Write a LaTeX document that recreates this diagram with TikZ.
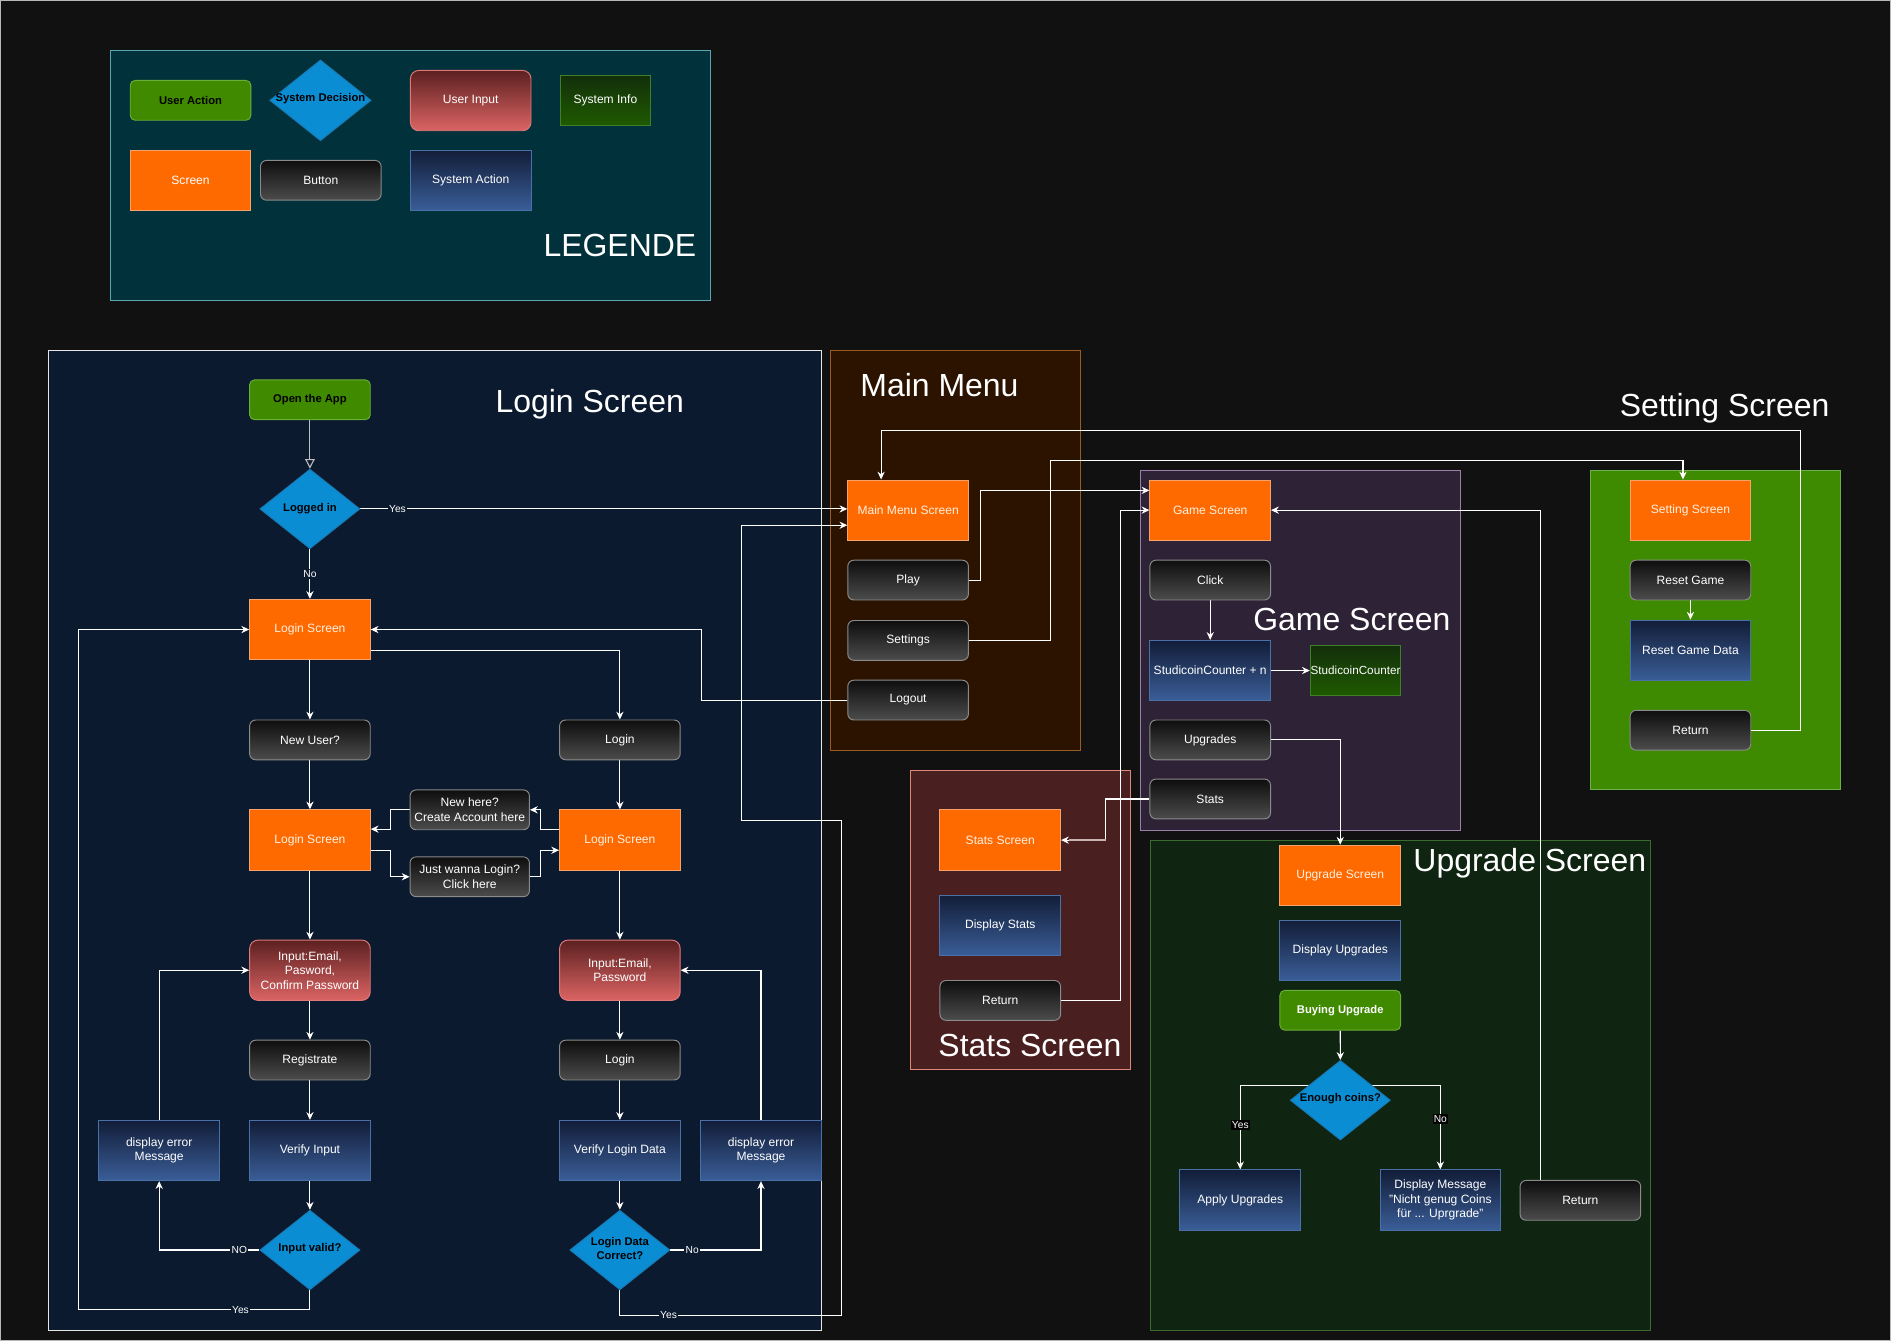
\documentclass[tikz,border=0pt]{standalone}
\usepackage{fontspec}
\setmainfont{Liberation Sans}
\usetikzlibrary{shapes.geometric,arrows.meta,calc}
\pgfdeclarelayer{bg}
\pgfdeclarelayer{edges}
\pgfsetlayers{bg,edges,main}
\definecolor{pagebg}{HTML}{111111}
\definecolor{legfill}{HTML}{01313A}
\definecolor{legdraw}{HTML}{56A8AE}
\definecolor{logfill}{HTML}{0B1A2E}
\definecolor{logdraw}{HTML}{E6E6E6}
\definecolor{mmfill}{HTML}{2B1300}
\definecolor{mmdraw}{HTML}{9A5A20}
\definecolor{gmfill}{HTML}{2E2236}
\definecolor{gmdraw}{HTML}{9A80A8}
\definecolor{setfill}{HTML}{3E8A00}
\definecolor{setdraw}{HTML}{6BB04A}
\definecolor{stfill}{HTML}{4A1F1F}
\definecolor{stdraw}{HTML}{E08878}
\definecolor{upfill}{HTML}{0F2411}
\definecolor{updraw}{HTML}{3B6B2E}
\definecolor{scrfill}{HTML}{FF6A00}
\definecolor{scrdraw}{HTML}{F5A36A}
\definecolor{scrtext}{HTML}{FFF0E2}
\definecolor{btntop}{HTML}{0E0E0E}
\definecolor{btnbot}{HTML}{4C4C4C}
\definecolor{btndraw}{HTML}{8A8A8A}
\definecolor{satop}{HTML}{121D38}
\definecolor{sabot}{HTML}{3A5E98}
\definecolor{sadraw}{HTML}{4A70A8}
\definecolor{sitop}{HTML}{132F0B}
\definecolor{sibot}{HTML}{1F5A00}
\definecolor{sidraw}{HTML}{3F7F2A}
\definecolor{uafill}{HTML}{408A00}
\definecolor{uadraw}{HTML}{6AAE3A}
\definecolor{uitop}{HTML}{5C2020}
\definecolor{uibot}{HTML}{DC6464}
\definecolor{uidraw}{HTML}{E07878}
\definecolor{decfill}{HTML}{0B8DD3}
\definecolor{decdraw}{HTML}{1A78B0}
\definecolor{statline}{HTML}{C8B2B2}
\begin{document}
\begin{tikzpicture}[x=1pt,y=-1pt,
  every node/.style={font=\fontsize{10}{12}\selectfont, align=center, inner sep=1pt, text=white},
  screenbox/.style={rectangle, fill=scrfill, draw=scrdraw, line width=0.8pt, text=scrtext, minimum width=100pt, minimum height=50pt},
  btnbox/.style={rectangle, rounded corners=5pt, top color=btntop, bottom color=btnbot, draw=btndraw, line width=0.8pt, text=white, minimum width=100pt, minimum height=33pt},
  sysact/.style={rectangle, top color=satop, bottom color=sabot, draw=sadraw, line width=0.8pt, text=white, minimum width=100pt, minimum height=50pt},
  sysinfo/.style={rectangle, top color=sitop, bottom color=sibot, draw=sidraw, line width=0.8pt, text=white, minimum width=75pt, minimum height=41.5pt, inner sep=0pt},
  useract/.style={rectangle, rounded corners=4pt, fill=uafill, draw=uadraw, line width=0.8pt, text=black, font=\fontsize{9.3}{11}\selectfont\bfseries, minimum width=100pt, minimum height=33pt},
  userin/.style={rectangle, rounded corners=7pt, top color=uitop, bottom color=uibot, draw=uidraw, line width=0.8pt, text=white, minimum width=100pt, minimum height=50pt},
  decision/.style={diamond, fill=decfill, draw=decdraw, line width=0.8pt, minimum width=83pt, minimum height=66pt, inner sep=0pt},
  dectxt/.style={text=black, font=\fontsize{9.3}{11.5}\selectfont\bfseries, inner sep=0pt},
  ttl/.style={text=white, font=\fontsize{26.5}{30}\selectfont, inner sep=0pt},
  conn/.style={draw=white, line width=0.9pt, -{Stealth[length=6.5pt,width=6pt]}},
  lbl/.style={font=\fontsize{8.5}{10}\selectfont, text=white, fill=logfill, inner sep=1pt},
  lblb/.style={font=\fontsize{8.5}{10}\selectfont, text=white, fill=black, inner sep=1pt}
]
\useasboundingbox (0,0) rectangle (1568,1112);

\begin{pgfonlayer}{bg}
  \fill[pagebg] (0,0) rectangle (1568,1112);
  \draw[draw=legdraw, fill=legfill, line width=0.9pt] (91.8,42) rectangle (589.5,248.8);
  \draw[draw=logdraw, fill=logfill, line width=0.9pt] (40.5,290.5) rectangle (681,1103);
  \draw[draw=mmdraw, fill=mmfill, line width=0.9pt] (688.7,290.5) rectangle (896,622);
  \draw[draw=gmdraw, fill=gmfill, line width=0.9pt] (946,390.3) rectangle (1211,688.5);
  \draw[draw=setdraw, fill=setfill, line width=0.9pt] (1318.7,390) rectangle (1526.3,655);
  \draw[draw=stdraw, fill=stfill, line width=0.9pt] (754.8,638.8) rectangle (937.5,887);
  \draw[draw=updraw, fill=upfill, line width=0.9pt] (954,697) rectangle (1368.5,1103);
  \draw[draw=white!72!black, line width=1pt] (0.5,0.5) rectangle (1567.5,1111.5);
\end{pgfonlayer}

% ---------- Legend ----------
\node[useract] (lgUA) at (158,83.2) {User Action};
\node[decision, minimum width=84pt, minimum height=67pt] (lgSD) at (265.7,83.2) {};
\node[dectxt] (lgSDt) at (265.7,81.5) {System Decision};
\node[userin] (lgUI) at (390.3,83.4) {User Input};
\node[sysinfo] (lgSI) at (502,83.3) {System Info};
\node[screenbox, text=white] (lgSC) at (158,149.5) {Screen};
\node[btnbox] (lgBT) at (266,149.5) {Button};
\node[sysact] (lgSA) at (390.3,149.5) {System Action};
\node[ttl] (tLeg) at (514,203.5) {LEGENDE};

% ---------- Login Screen ----------
\node[ttl] (tLogin) at (489,335) {Login Screen};
\node[useract] (open) at (257,331.5) {Open the App};
\node[decision] (d1) at (257,422) {};
\node[dectxt] (d1t) at (257,421.5) {Logged in};
\node[screenbox] (ls1) at (257,522) {Login Screen};
\node[btnbox] (newuser) at (257,613.5) {New User?};
\node[btnbox] (login1) at (514,613.5) {Login};
\node[screenbox] (ls2) at (257,696.5) {Login Screen};
\node[screenbox] (ls3) at (514,696.5) {Login Screen};
\node[btnbox, minimum width=99pt] (newhere) at (389.5,671.5) {New here?\\Create Account here};
\node[btnbox, minimum width=99pt] (just) at (389.5,727) {Just wanna Login?\\Click here};
\node[userin] (in1) at (257,804.5) {Input:Email,\\Pasword,\\Confirm Password};
\node[userin] (in2) at (514,804.5) {Input:Email,\\Password};
\node[btnbox] (reg) at (257,879) {Registrate};
\node[btnbox] (login2) at (514,879) {Login};
\node[sysact] (err1) at (132,954) {display error\\Message};
\node[sysact] (ver1) at (257,954) {Verify Input};
\node[sysact] (ver2) at (514,954) {Verify Login Data};
\node[sysact] (err2) at (631,954) {display error\\Message};
\node[decision] (d2) at (257,1036.5) {};
\node[dectxt] (d2t) at (257,1035.5) {Input valid?};
\node[decision] (d3) at (514,1036.5) {};
\node[dectxt] (d3t) at (514,1035.5) {Login Data\\Correct?};

% ---------- Main Menu ----------
\node[ttl] (tMM) at (779,319) {Main Menu};
\node[screenbox] (mms) at (753,423) {Main Menu Screen};
\node[btnbox] (play) at (753,481) {Play};
\node[btnbox] (settings) at (753,531) {Settings};
\node[btnbox] (logout) at (753,580.5) {Logout};

% ---------- Game Screen ----------
\node[ttl] (tGS) at (1121,514) {Game Screen};
\node[screenbox] (gs) at (1003.5,423) {Game Screen};
\node[btnbox] (click) at (1003.5,481) {Click};
\node[sysact] (scn) at (1003.5,556) {StudicoinCounter + n};
\node[sysinfo, font=\fontsize{9.7}{11}\selectfont] (sc) at (1124,556) {StudicoinCounter};
\node[btnbox] (upg) at (1003.5,613.5) {Upgrades};
\node[btnbox] (statsb) at (1003.5,662.5) {Stats};

% ---------- Setting Screen ----------
\node[ttl] (tSet) at (1430,338.5) {Setting Screen};
\node[screenbox] (ss) at (1401.7,423) {Setting Screen};
\node[btnbox] (reset) at (1401.7,481) {Reset Game};
\node[sysact] (rgd) at (1401.7,539.2) {Reset Game Data};
\node[btnbox] (ret1) at (1401.7,605.5) {Return};

% ---------- Stats Screen ----------
\node[ttl] (tSt) at (854,866.5) {Stats Screen};
\node[screenbox] (sts) at (829.4,696.6) {Stats Screen};
\node[sysact] (dst) at (829.4,767.3) {Display Stats};
\node[btnbox] (ret2) at (829.4,829.5) {Return};

% ---------- Upgrade Screen ----------
\node[ttl] (tUp) at (1268.5,716) {Upgrade Screen};
\node[screenbox] (us) at (1111.3,725.8) {Upgrade Screen};
\node[sysact] (du) at (1111.3,788) {Display Upgrades};
\node[useract, text=white] (bu) at (1111.3,837.7) {Buying Upgrade};
\node[decision] (d4) at (1111.4,912.3) {};
\node[dectxt] (d4t) at (1111.4,911) {Enough coins?};
\node[sysact] (apply) at (1028.4,995) {Apply Upgrades};
\node[sysact] (dm) at (1194.3,995) {Display Message\\"Nicht genug Coins\\für ... Uprgrade"};
\node[btnbox] (ret3) at (1310.4,995.3) {Return};

% ---------- Connectors ----------
\begin{pgfonlayer}{edges}
  % login flow
  \draw[draw=white!75!black, line width=0.9pt, -{Triangle[open,length=8pt,width=8pt]}] (open.south) -- (d1.north);
  \draw[conn] (d1.east) -- node[lbl,pos=0.076]{Yes} (d1.east -| mms.west);
  \draw[conn] (d1.south) -- node[lbl]{No} (ls1.north);
  \draw[conn] ([yshift=-17.5pt]ls1.east) -| (login1.north);
  \draw[conn] (ls1.south) -- (newuser.north);
  \draw[conn] (newuser.south) -- (ls2.north);
  \draw[conn] (login1.south) -- (ls3.north);
  \draw[conn] ([yshift=9pt]ls3.west) -- (448.5,687.5) |- (newhere.east);
  \draw[conn] (newhere.west) -- (324,671.5) |- ([yshift=9pt]ls2.east);
  \draw[conn] ([yshift=-8.5pt]ls2.east) -- (324,705) |- (just.west);
  \draw[conn] (just.east) -- (448.5,727) |- ([yshift=-8.5pt]ls3.west);
  \draw[conn] (ls2.south) -- (in1.north);
  \draw[conn] (ls3.south) -- (in2.north);
  \draw[conn] (in1.south) -- (reg.north);
  \draw[conn] (reg.south) -- (ver1.north);
  \draw[conn] (ver1.south) -- (d2.north);
  \draw[conn] (in2.south) -- (login2.north);
  \draw[conn] (login2.south) -- (ver2.north);
  \draw[conn] (ver2.south) -- (d3.north);
  \draw[conn] (d2.west) -- node[lbl,pos=0.2]{NO} (d2.west -| err1.south) -- (err1.south);
  \draw[conn] (err1.north) |- (in1.west);
  \draw[conn] (d2.south) |- node[lbl,pos=0.65]{Yes} (65,1086) |- (ls1.west);
  \draw[conn] (d3.east) -- node[lbl,pos=0.24]{No} (d3.east -| err2.south) -- (err2.south);
  \draw[conn] (err2.north) |- (in2.east);
  \draw[conn] (d3.south) |- node[lbl,pos=0.61]{Yes} (697.5,1090.5) |- (615,680) |- ([yshift=-12.5pt]mms.west);
  % main menu
  \draw[conn] (logout.west) -- (582,580.5) |- (ls1.east);
  \draw[conn] (play.east) -- (813,481) |- ([yshift=16.4pt]gs.west);
  \draw[conn] (settings.east) -| (871,381.5) -| ([xshift=-6.2pt]ss.north);
  \draw[conn] (ret1.east) -| (1493,357) -| ([xshift=-22.4pt]mms.north);
  % game screen
  \draw[conn] (click.south) -- (scn.north);
  \draw[conn] (scn.east) -- (sc.west);
  \draw[conn] (upg.east) -| (us.north);
  \draw[conn] (statsb.west) -- (917,662.5) |- (sts.east);
  \draw[draw=statline, line width=1.8pt] (917,696.6) -- ([xshift=6.5pt]sts.east);
  \draw[conn] (ret2.east) -| (929.2,423) -- (gs.west);
  \draw[conn] ([xshift=-33.4pt]ret3.north) |- (gs.east);
  % settings
  \draw[conn] (reset.south) -- (rgd.north);
  % upgrade
  \draw[conn] (bu.south) -- (d4.north);
  \draw[conn] ($(d4.center)+(0,-12.2)$) -| node[lblb,pos=0.735]{Yes} (apply.north);
  \draw[conn] ($(d4.center)+(0,-12.2)$) -| node[lblb,pos=0.70]{No} (dm.north);
\end{pgfonlayer}
\end{tikzpicture}
\end{document}
